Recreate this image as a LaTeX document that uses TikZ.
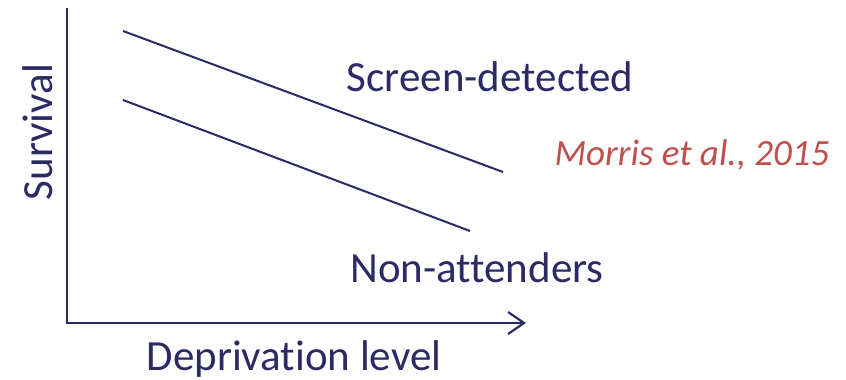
\documentclass[tikz,border=0pt]{standalone}
\usepackage{fontspec}
\setmainfont[Ligatures={NoCommon,NoRare,NoContextual}]{Carlito}
\usetikzlibrary{arrows.meta}
\definecolor{navy}{HTML}{2B2A64}
\definecolor{cite}{HTML}{C0504D}
\begin{document}
\begin{tikzpicture}[x=1pt,y=-1pt,
  axis/.style={draw=navy,line width=2.2pt},
  trend/.style={draw=navy,line width=2pt},
  lbl/.style={text=navy,font=\fontsize{43}{50}\selectfont,inner sep=0pt}]
\useasboundingbox[fill=white] (0,0) rectangle (846,380);
\coordinate (top) at (67,8);
\coordinate (origin) at (67,323);
\coordinate (xend) at (526,323);
\draw[axis,-{Straight Barb[length=16pt,width=22pt,line width=2.2pt]}] (top) -- (origin) -- (xend);
\coordinate (a1) at (123,31); \coordinate (a2) at (503,172);
\coordinate (b1) at (123,100); \coordinate (b2) at (470,231);
\draw[trend] (a1) -- (a2);
\draw[trend] (b1) -- (b2);
\node[lbl] (sd) at (490,77) {Screen-detected};
\node[lbl] (na) at (477,268) {Non-attenders};
\node[lbl] (dl) at (294,359) {Deprivation level};
\node[lbl,rotate=90] (sv) at (38,132) {Survival};
\node[text=cite,font=\fontsize{37}{44}\selectfont\itshape,inner sep=0pt] (mo) at (692,155) {Morris et al., 2015};
\end{tikzpicture}
\end{document}
